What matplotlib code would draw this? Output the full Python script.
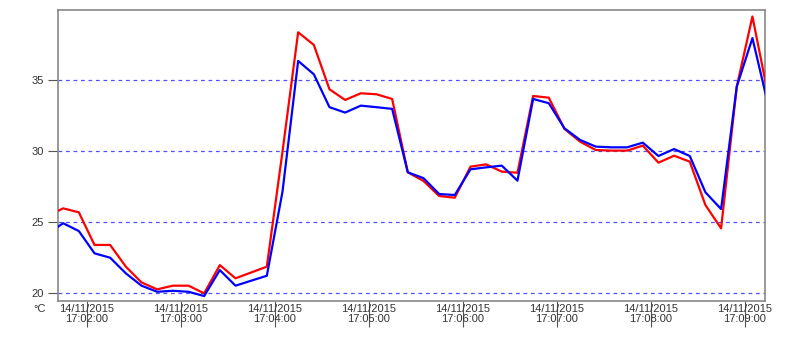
import matplotlib
matplotlib.use('Agg')
import matplotlib.pyplot as plt
import pandas as pd

# readings every 10 s, first one at 17:01:35 (partly off the left edge)
start = '2015-11-14 17:01:35'
red = [25.44, 25.97, 25.69, 23.39, 23.39, 21.86, 20.75, 20.26, 20.52, 20.52,
       19.98, 21.97, 21.04, 21.45, 21.86, 29.96, 38.38, 37.49, 34.36, 33.61,
       34.08, 34.01, 33.68, 28.51, 27.90, 26.84, 26.72, 28.91, 29.07, 28.56,
       28.48, 33.89, 33.77, 31.57, 30.67, 30.08, 30.04, 30.04, 30.39, 29.19,
       29.68, 29.26, 26.20, 24.56, 34.55, 39.49, 33.96]
blue = [24.19, 24.92, 24.37, 22.80, 22.49, 21.39, 20.52, 20.09, 20.16, 20.09,
        19.79, 21.62, 20.52, 20.87, 21.22, 27.14, 36.36, 35.42, 33.10, 32.72,
        33.21, 33.10, 32.98, 28.51, 28.10, 26.98, 26.91, 28.72, 28.86, 28.98,
        27.92, 33.68, 33.38, 31.61, 30.79, 30.32, 30.27, 30.27, 30.60, 29.66,
        30.15, 29.66, 27.10, 25.92, 34.55, 37.97, 33.28]
times = pd.date_range(start, periods=len(red), freq='10s')

tick_times = ['2015-11-14 17:02:00', '2015-11-14 17:03:00', '2015-11-14 17:04:00',
              '2015-11-14 17:05:00', '2015-11-14 17:06:00', '2015-11-14 17:07:00',
              '2015-11-14 17:08:00', '2015-11-14 17:09:00']
tick_labels = ['14/11/2015\n17:02:00', '14/11/2015\n17:03:00', '14/11/2015\n17:04:00',
               '14/11/2015\n17:05:00', '14/11/2015\n17:06:00', '14/11/2015\n17:07:00',
               '14/11/2015\n17:08:00', '14/11/2015\n17:09:00']
y_ticks = [20, 25, 30, 35]

plt.rcParams['font.family'] = ['Liberation Sans', 'DejaVu Sans']

fig = plt.figure(figsize=(7.99, 3.53), dpi=100)
ax = fig.add_axes([0.0726, 0.1473, 0.8848, 0.8244])

for y in y_ticks:
    ax.axhline(y, color='#5050ff', lw=0.9, ls=(0, (3, 3)), zorder=1)

ax.plot(times, red, color='#ff0000', lw=1.6, zorder=3)
ax.plot(times, blue, color='#0000ff', lw=1.6, zorder=4)

ax.set_xlim(pd.Timestamp('2015-11-14 17:01:41.7'), pd.Timestamp('2015-11-14 17:09:13'))
ax.set_ylim(19.44, 39.95)

ax.set_yticks(y_ticks)
ax.set_yticklabels([str(v) for v in y_ticks])
ax.set_xticks(pd.to_datetime(tick_times), tick_labels)
for lab in ax.get_xticklabels():
    lab.set_linespacing(0.9)

ax.tick_params(axis='x', direction='out', length=19, width=0.8, color='#555555',
               pad=-16.5, labelsize=8, labelcolor='#333333')
ax.tick_params(axis='y', direction='out', length=7, width=0.8, color='#555555',
               pad=3, labelsize=8, labelcolor='#333333')

for s in ax.spines.values():
    s.set_color('#888888')
    s.set_linewidth(1.2)

fig.text(33 / 799, 1 - 309 / 353, '°C', fontsize=8, color='#333333', va='center', ha='left')

fig.savefig('out.png', dpi=100)
